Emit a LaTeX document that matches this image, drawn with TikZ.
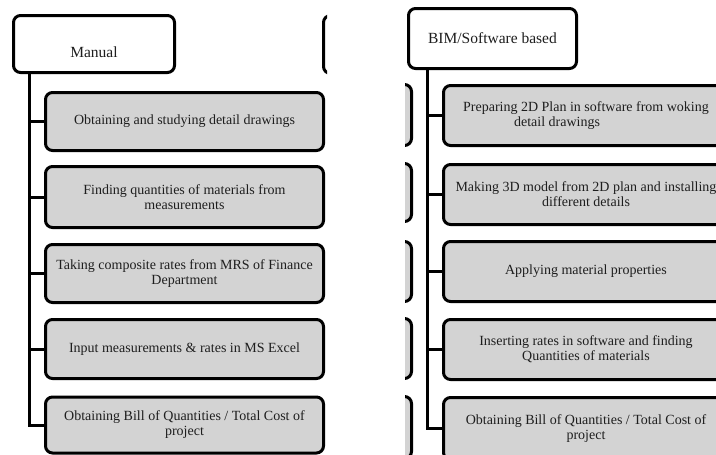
\documentclass[tikz,border=0pt]{standalone}
\usepackage{fontspec}
\setmainfont{Liberation Serif}
\definecolor{boxgrey}{RGB}{211,211,211}
\definecolor{inkc}{RGB}{30,30,30}
\tikzset{
  headbox/.style={draw=black, line width=3pt, rounded corners=7pt, fill=white, inner sep=0pt,
    text=inkc, font=\fontsize{15.5}{17}\selectfont, align=center},
  stepbox/.style={draw=black, line width=3pt, rounded corners=7pt, fill=boxgrey, inner sep=0pt,
    text=inkc, font=\fontsize{14}{15}\selectfont, align=center},
  link/.style={draw=black, line width=3pt},
}
\begin{document}
\begin{tikzpicture}[x=1pt,y=-1pt]
\useasboundingbox (0,0) rectangle (716,455);
\fill[white] (0,0) rectangle (716,455);
% ---------- left picture ----------
\begin{scope}
\clip (0,0) rectangle (327,455);
\node[headbox, minimum width=161pt, minimum height=57pt] (man) at (94,44) {};
\node[text=inkc, font=\fontsize{15.5}{17}\selectfont] (mant) at (94,52) {Manual};
\node[headbox, minimum width=170pt, minimum height=58pt] (nbr) at (408.5,44.5) {};
\node[stepbox, minimum width=278pt, minimum height=58pt] (l1) at (184.5,121.5) {Obtaining and studying detail drawings};
\node[stepbox, minimum width=278pt, minimum height=61pt] (l2) at (184.5,197) {Finding quantities of materials from\\measurements};
\node[stepbox, minimum width=278pt, minimum height=58pt] (l3) at (184.5,273.5) {Taking composite rates from MRS of Finance\\Department};
\node[stepbox, minimum width=278pt, minimum height=59pt] (l4) at (184.5,349) {Input measurements \& rates in MS Excel};
\node[stepbox, minimum width=278pt, minimum height=56pt] (l5) at (184.5,425) {Obtaining Bill of Quantities / Total Cost of\\project};
\coordinate (lt) at (29,72.5);
\draw[link] (lt) |- (l5.west);
\foreach \n in {l1,l2,l3,l4}{\draw[link] (lt |- \n.west) -- (\n.west);}
\end{scope}
% ---------- right picture ----------
\begin{scope}
\clip (405,0) rectangle (716,455);
\node[stepbox, minimum width=200pt, minimum height=61pt] (p1) at (311.5,115) {};
\node[stepbox, minimum width=200pt, minimum height=58pt] (p2) at (311.5,192.5) {};
\node[stepbox, minimum width=200pt, minimum height=60pt] (p3) at (311.5,271.5) {};
\node[stepbox, minimum width=200pt, minimum height=60pt] (p4) at (311.5,348.5) {};
\node[stepbox, minimum width=200pt, minimum height=62pt] (p5) at (311.5,427.5) {};
\node[headbox, minimum width=168pt, minimum height=60pt] (bim) at (492.5,38.5) {BIM/Software based};
\node[stepbox, minimum width=285pt, minimum height=60pt] (r1) at (586,115.5) {Preparing 2D Plan in software from woking\\\hspace*{-58pt}detail drawings};
\node[stepbox, minimum width=285pt, minimum height=60pt] (r2) at (586,194.5) {Making 3D model from 2D plan and installing\\different details};
\node[stepbox, minimum width=285pt, minimum height=60pt] (r3) at (586,271.5) {Applying material properties};
\node[stepbox, minimum width=285pt, minimum height=60pt] (r4) at (586,349.5) {Inserting rates in software and finding\\Quantities of materials};
\node[stepbox, minimum width=285pt, minimum height=62pt] (r5) at (586,428.5) {Obtaining Bill of Quantities / Total Cost of\\project};
\coordinate (rt) at (427,68.5);
\draw[link] (rt) |- (r5.west);
\foreach \n in {r1,r2,r3,r4}{\draw[link] (rt |- \n.west) -- (\n.west);}
\end{scope}
\end{tikzpicture}
\end{document}
